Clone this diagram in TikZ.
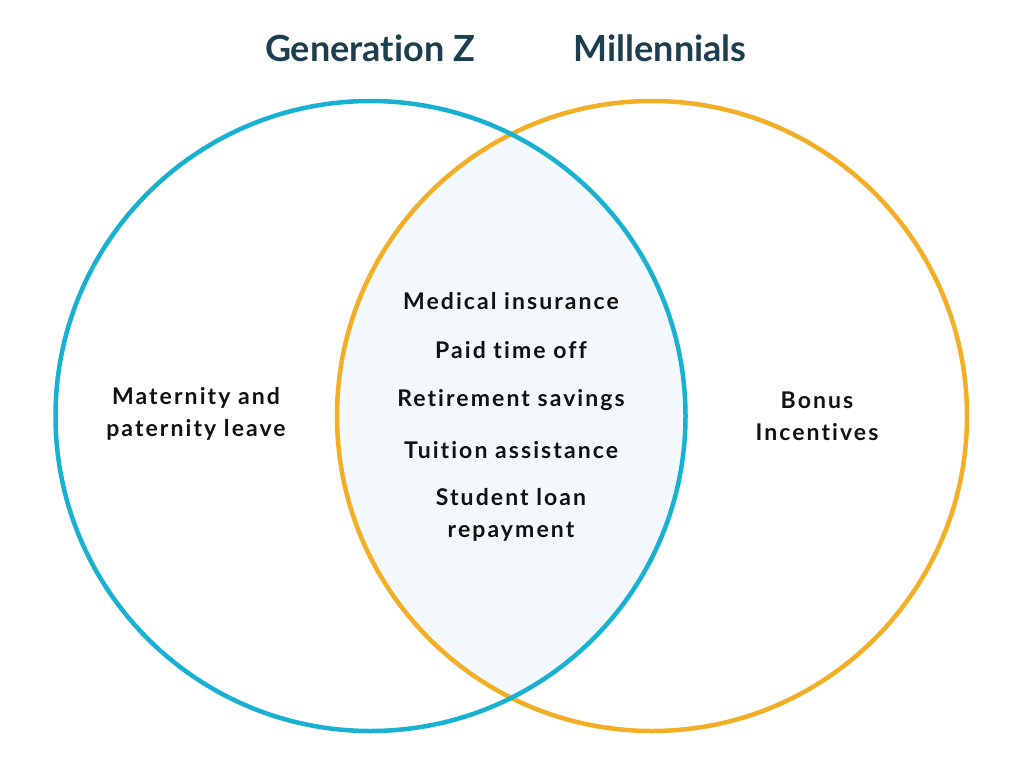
\documentclass[tikz,border=0pt]{standalone}
\usepackage{fontspec}
\setmainfont[Ligatures=NoCommon]{Lato}
\newfontfamily\bodyfont[LetterSpace=9,Ligatures=NoCommon]{Lato}
\definecolor{gzblue}{HTML}{19B1D2}
\definecolor{mlorange}{HTML}{F2AE24}
\definecolor{titlecol}{HTML}{1C3E4E}
\definecolor{lensfill}{HTML}{F2F8FB}
\definecolor{txtcol}{HTML}{111111}
\begin{document}
\begin{tikzpicture}[x=1pt,y=-1pt,
  ring/.style={line width=4.5pt},
  title/.style={font=\fontsize{36}{40}\selectfont\bfseries, text=titlecol, anchor=center},
  item/.style={font=\bodyfont\fontsize{23}{32}\selectfont\bfseries, text=txtcol, align=center, anchor=center}]
\useasboundingbox (0,0) rectangle (1024,762);
\fill[white] (0,0) rectangle (1024,762);
\coordinate (cl) at (370.5,416);
\coordinate (cr) at (652,416);
\begin{scope}
  \clip (cl) circle (315);
  \fill[lensfill] (cr) circle (315);
\end{scope}
\draw[ring, mlorange] (cr) circle (315);
\draw[ring, gzblue] (cl) circle (315);
\node[title] (tgz) at (370,48) {Generation Z};
\node[title] (tml) at (660,48) {Millennials};
\node[item] (med) at (511,301) {Medical insurance};
\node[item] (pto) at (511,350) {Paid time off};
\node[item] (ret) at (511,400) {Retirement savings};
\node[item] (tui) at (511,450) {Tuition assistance};
\node[item] (stu) at (511,515) {Student loan\\repayment};
\node[item] (mat) at (196,414) {Maternity and\\paternity leave};
\node[item] (bon) at (817,416) {Bonus\\Incentives};
\end{tikzpicture}
\end{document}
